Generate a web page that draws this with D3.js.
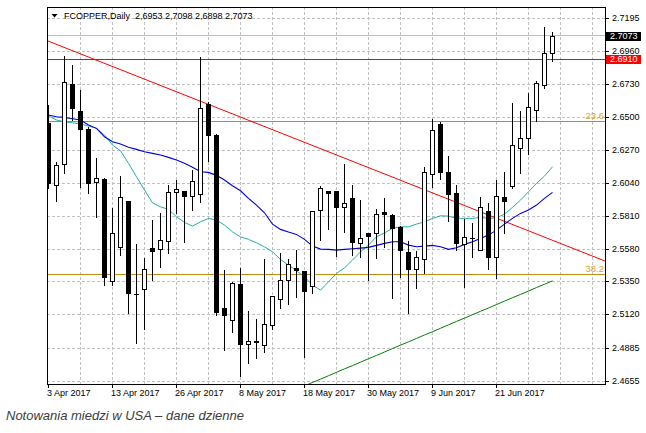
<!DOCTYPE html>
<html><head><meta charset="utf-8">
<script src="https://cdn.jsdelivr.net/npm/d3@7/dist/d3.min.js"></script>
<style>
html,body{margin:0;padding:0;background:#fff;}
svg{display:block;}
text{font-family:"Liberation Sans",Arial,sans-serif;}
</style></head><body>
<svg id="c" width="646" height="433"></svg>
<script>
// ---- DATA (FCOPPER, Daily, 3 Apr 2017 – 30 Jun 2017, 64 bars) ----
const barOpen = [2.6460,2.6026,2.6173,2.6735,2.6546,2.6422,2.6047,2.6068,2.5358,2.5592,
2.5916,2.5268,2.5298,2.5585,2.5582,2.5638,2.5977,2.5984,2.5949,2.5963,
2.6595,2.6378,2.5165,2.5083,2.5333,2.4913,2.4927,2.4906,2.5046,2.5228,
2.5361,2.5445,2.5426,2.5321,2.5851,2.5984,2.5984,2.5872,2.5935,2.5620,
2.5690,2.5690,2.5837,2.5818,2.5736,2.5559,2.5442,2.5508,2.6103,2.6453,
2.6117,2.5970,2.5613,2.5655,2.5573,2.5844,2.5526,2.5942,2.6021,2.6285,
2.6355,2.6553,2.6726,2.6953];
const barHigh = [2.6588,2.6191,2.6931,2.6868,2.6693,2.6436,2.6215,2.6075,2.5865,2.6091,
2.5916,2.5615,2.5515,2.5783,2.5830,2.6028,2.6063,2.5984,2.6133,2.6926,
2.6611,2.6385,2.5433,2.5352,2.5445,2.5146,2.5088,2.5510,2.5251,2.5550,
2.5510,2.5573,2.5426,2.5844,2.6023,2.5984,2.5984,2.6173,2.6028,2.5923,
2.5690,2.5860,2.5935,2.5823,2.5743,2.5636,2.5568,2.6156,2.6488,2.6471,
2.6231,2.6028,2.5790,2.5760,2.5946,2.5904,2.6063,2.6117,2.6604,2.6548,
2.6670,2.6758,2.7136,2.7098];
const barLow = [2.6005,2.5918,2.6114,2.6483,2.6016,2.5970,2.5806,2.5328,2.5328,2.5538,
2.5134,2.4920,2.5020,2.5363,2.5456,2.5554,2.5830,2.5631,2.5853,2.5911,
2.6196,2.5118,2.4873,2.5001,2.4691,2.4784,2.4815,2.4861,2.5018,2.5165,
2.5193,2.5246,2.4826,2.5270,2.5643,2.5718,2.5533,2.5701,2.5539,2.5526,
2.5363,2.5519,2.5596,2.5239,2.5386,2.5134,2.5309,2.5410,2.6016,2.6070,
2.5776,2.5573,2.5316,2.5526,2.5573,2.5438,2.5375,2.5690,2.6005,2.6114,
2.6243,2.6476,2.6705,2.6898];
const barClose = [2.6040,2.6166,2.6749,2.6569,2.6422,2.6040,2.6075,2.5386,2.5690,2.5942,
2.5274,2.5265,2.5438,2.5568,2.5643,2.5977,2.5998,2.5953,2.6054,2.6565,
2.6380,2.5141,2.5116,2.5340,2.4913,2.4938,2.4938,2.5053,2.5251,2.5363,
2.5473,2.5431,2.5288,2.5844,2.6005,2.5970,2.5876,2.5904,2.5631,2.5659,
2.5673,2.5823,2.5823,2.5725,2.5573,2.5442,2.5522,2.6117,2.6413,2.6121,
2.5963,2.5624,2.5662,2.5657,2.5872,2.5526,2.5953,2.5918,2.6306,2.6355,
2.6576,2.6740,2.6950,2.7073];

// slow moving average (blue)
const maSlow = [2.6518,2.6506,2.6502,2.6492,2.6483,2.6448,2.6425,2.6366,2.6331,2.6315,
2.6292,2.6278,2.6261,2.6250,2.6238,2.6222,2.6203,2.6180,2.6152,2.6121,
2.6117,2.6096,2.6063,2.6023,2.5988,2.5935,2.5888,2.5834,2.5755,2.5718,
2.5699,2.5683,2.5648,2.5601,2.5580,2.5578,2.5573,2.5578,2.5582,2.5587,
2.5592,2.5606,2.5620,2.5631,2.5631,2.5608,2.5596,2.5601,2.5606,2.5596,
2.5578,2.5589,2.5613,2.5631,2.5655,2.5678,2.5713,2.5755,2.5795,2.5830,
2.5853,2.5888,2.5935,2.5977];
// fast moving average (light sea green)
const maFast = [2.6513,2.6483,2.6471,2.6464,2.6455,2.6441,2.6425,2.6378,2.6308,2.6268,
2.6180,2.6086,2.5993,2.5904,2.5876,2.5858,2.5806,2.5767,2.5741,2.5771,
2.5795,2.5783,2.5748,2.5701,2.5666,2.5648,2.5624,2.5596,2.5561,2.5508,
2.5468,2.5428,2.5386,2.5328,2.5293,2.5351,2.5410,2.5449,2.5503,2.5561,
2.5608,2.5666,2.5694,2.5725,2.5736,2.5736,2.5755,2.5771,2.5795,2.5813,
2.5811,2.5795,2.5795,2.5795,2.5802,2.5795,2.5799,2.5825,2.5872,2.5923,
2.5981,2.6040,2.6091,2.6156];
// long moving average (green), starts at bar 32
const maLongStart = 32;
const maLong = [2.4623,2.4647,2.4670,2.4694,2.4718,2.4742,2.4765,2.4789,2.4813,2.4836,
2.4860,2.4884,2.4908,2.4931,2.4955,2.4979,2.5002,2.5026,2.5050,2.5074,
2.5097,2.5121,2.5145,2.5168,2.5192,2.5216,2.5240,2.5263,2.5287,2.5311,
2.5334,2.5358];

// descending trend line anchors (bar index, price)
const trendBars = [0, 63];
const trendPrices = [2.7036, 2.5643];
// Fibonacci levels
const fiboLabels = ["23.6", "38.2"];
const fiboPrices = [2.6476, 2.5403];
// horizontal level and last price
const levelPrice = 2.6910;
const lastPrice = 2.7073;

// axis ticks
const priceTicks = [2.7195,2.6960,2.6730,2.6500,2.6270,2.6040,2.5810,2.5580,2.5350,2.5120,2.4885,2.4655];
const dateTickBars = [0, 8, 16, 24, 32, 40, 48, 56];
const dateTickLabels = ["3 Apr 2017","13 Apr 2017","26 Apr 2017","8 May 2017","18 May 2017","30 May 2017","9 Jun 2017","21 Jun 2017"];

const titleText = "FCOPPER,Daily  2,6953 2,7098 2,6898 2,7073";
const captionText = "Notowania miedzi w USA – dane dzienne";

// ---- LAYOUT ----
const svg = d3.select("#c");
const P = {left: 47, right: 605, top: 7, bottom: 384};
const x = d3.scaleLinear().domain([0, 63]).range([48, 552]);
const y = d3.scaleLinear().domain([2.4655, 2.7195]).range([381.3, 18.3]);
const px = v => Math.floor(v) + 0.5;

svg.append("rect").attr("width", 646).attr("height", 433).attr("fill", "#fff");

svg.append("defs").append("clipPath").attr("id", "clip")
  .append("rect").attr("x", P.left + 1).attr("y", P.top + 1)
  .attr("width", P.right - P.left - 1).attr("height", P.bottom - P.top - 1);

const grid = svg.append("g").attr("stroke", "#c0c0c0").attr("stroke-dasharray", "3,2").attr("shape-rendering", "crispEdges");
priceTicks.forEach(v => {
  grid.append("line").attr("x1", P.left).attr("x2", P.right)
    .attr("y1", px(y(v))).attr("y2", px(y(v)));
});
const barMax = x.invert(P.right);
for (let b = 4; b <= barMax; b += 4) {
  grid.append("line").attr("x1", Math.round(x(b)) + 0.5).attr("x2", Math.round(x(b)) + 0.5)
    .attr("y1", P.top).attr("y2", P.bottom);
}

const plot = svg.append("g").attr("clip-path", "url(#clip)");

// fibo levels
fiboPrices.forEach((v, i) => {
  plot.append("line").attr("x1", P.left).attr("x2", P.right)
    .attr("y1", px(y(v))).attr("y2", px(y(v)))
    .attr("stroke", "#c48a10").attr("stroke-width", 1).attr("shape-rendering", "crispEdges");
  svg.append("text").attr("x", P.right - 1).attr("y", px(y(v)) - 2.5)
    .attr("text-anchor", "end").attr("font-size", "9.5px").attr("fill", "#e0a030").text(fiboLabels[i]);
});

// last price line, level line
plot.append("line").attr("x1", P.left).attr("x2", P.right)
  .attr("y1", px(y(lastPrice))).attr("y2", px(y(lastPrice)))
  .attr("stroke", "#c0c0c0").attr("shape-rendering", "crispEdges");
plot.append("line").attr("x1", P.left).attr("x2", P.right)
  .attr("y1", px(y(levelPrice))).attr("y2", px(y(levelPrice)))
  .attr("stroke", "#ff0000").attr("shape-rendering", "crispEdges");

// trend line extended over plot
const slope = (trendPrices[1] - trendPrices[0]) / (trendBars[1] - trendBars[0]);
const bL = x.invert(P.left), bR = x.invert(P.right);
plot.append("line")
  .attr("x1", x(bL)).attr("y1", y(trendPrices[0] + slope * (bL - trendBars[0])))
  .attr("x2", x(bR)).attr("y2", y(trendPrices[0] + slope * (bR - trendBars[0])))
  .attr("stroke", "#ff0000").attr("stroke-width", 1);

// moving averages
const line = d3.line().x(d => x(d[0]) + 0.5).y(d => y(d[1]));
plot.append("path").attr("d", line(maLong.map((v, i) => [i + maLongStart, v])))
  .attr("fill", "none").attr("stroke", "#008000").attr("stroke-width", 1);
plot.append("path").attr("d", line(maFast.map((v, i) => [i, v])))
  .attr("fill", "none").attr("stroke", "#20b2aa").attr("stroke-width", 1);
plot.append("path").attr("d", line(maSlow.map((v, i) => [i, v])))
  .attr("fill", "none").attr("stroke", "#0000dd").attr("stroke-width", 1.1);

// candles
const cg = plot.append("g").attr("shape-rendering", "crispEdges");
barOpen.forEach((o, i) => {
  const h = barHigh[i], l = barLow[i], c = barClose[i];
  const cx = Math.round(x(i));
  const yh = Math.round(y(h)), yl = Math.round(y(l));
  cg.append("rect").attr("x", cx).attr("y", yh).attr("width", 1).attr("height", Math.max(1, yl - yh + 1)).attr("fill", "#000");
  const yt = Math.round(y(Math.max(o, c))), yb = Math.round(y(Math.min(o, c)));
  if (yb - yt < 1) {
    cg.append("rect").attr("x", cx - 2).attr("y", yt).attr("width", 5).attr("height", 1).attr("fill", "#000");
  } else {
    cg.append("rect").attr("x", cx - 1.5).attr("y", yt + 0.5).attr("width", 4).attr("height", yb - yt)
      .attr("fill", c >= o ? "#fff" : "#000").attr("stroke", "#000").attr("stroke-width", 1);
  }
});

// frame
svg.append("rect").attr("x", P.left + 0.5).attr("y", P.top + 0.5)
  .attr("width", P.right - P.left).attr("height", P.bottom - P.top)
  .attr("fill", "none").attr("stroke", "#000").attr("shape-rendering", "crispEdges");

// right axis
const yAxis = svg.append("g").attr("transform", `translate(${P.right + 0.5},0)`)
  .call(d3.axisRight(y).tickValues(priceTicks).tickFormat(d3.format(".4f")).tickSize(3).tickPadding(3.5));
yAxis.select(".domain").remove();
yAxis.selectAll(".tick").attr("transform", d => `translate(0,${px(y(d))})`);
yAxis.selectAll("text").attr("font-size", "9px").attr("font-family", "Liberation Sans, Arial, sans-serif").attr("fill", "#000");
yAxis.selectAll("line").attr("stroke", "#000").attr("shape-rendering", "crispEdges");

// highlighted price labels
[[lastPrice, "#000"], [levelPrice, "#ff0000"]].forEach(([v, col]) => {
  const yy = y(v);
  svg.append("rect").attr("x", 606).attr("y", Math.round(yy) - 4).attr("width", 35).attr("height", 9).attr("fill", col);
  svg.append("text").attr("x", 610).attr("y", Math.round(yy) + 0.5).attr("dy", "0.32em")
    .attr("font-size", "9px").attr("fill", "#fff").text(d3.format(".4f")(v));
});

// bottom axis
const xAxis = svg.append("g").attr("transform", `translate(0,${P.bottom + 0.5})`)
  .call(d3.axisBottom(x).tickValues(dateTickBars).tickFormat((d, i) => dateTickLabels[i]).tickSize(3));
xAxis.select(".domain").remove();
xAxis.selectAll(".tick").attr("transform", d => `translate(${Math.round(x(d)) + 0.5},0)`);
xAxis.selectAll("text").attr("text-anchor", "start").attr("x", -1.5).attr("y", 11.5).attr("dy", 0)
  .attr("font-size", "9px").attr("font-family", "Liberation Sans, Arial, sans-serif").attr("fill", "#000");
xAxis.selectAll("line").attr("stroke", "#000").attr("shape-rendering", "crispEdges");

// title
svg.append("path").attr("d", "M51.5,14 L57.5,14 L54.5,17.5 Z").attr("fill", "#000");
svg.append("text").attr("x", 64).attr("y", 18.5).attr("font-size", "9px").attr("fill", "#000")
  .style("white-space", "pre").text(titleText);

// caption
svg.append("text").attr("x", 6).attr("y", 420).attr("font-size", "13px").attr("font-style", "italic")
  .attr("fill", "#3c3c3c").text(captionText);
</script>
</body></html>
